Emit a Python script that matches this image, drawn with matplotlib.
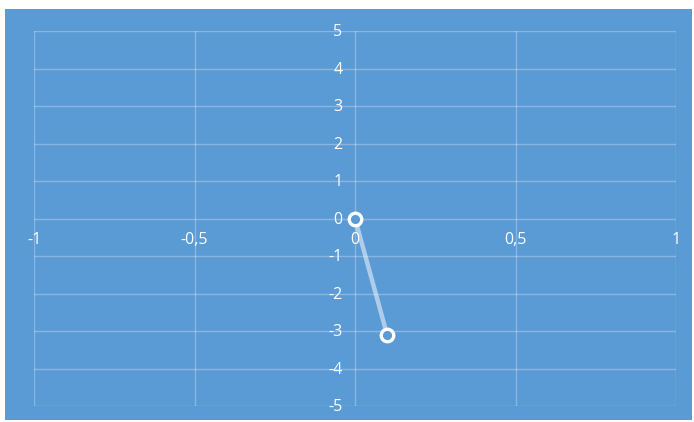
import matplotlib
matplotlib.use("Agg")
import matplotlib.pyplot as plt
from matplotlib.patches import Rectangle

# Series data
x_values = [0.0, 0.1]
y_values = [0.0, -3.1]

# Axis ticks and labels
x_ticks = [-1, -0.5, 0, 0.5, 1]
x_tick_labels = ["-1", "-0,5", "0", "0,5", "1"]
y_ticks = [-5, -4, -3, -2, -1, 0, 1, 2, 3, 4, 5]
y_tick_labels = [str(v) for v in y_ticks]

BG = "#5B9BD5"
GRID = (1, 1, 1, 0.28)

plt.rcParams["font.family"] = ["Open Sans", "DejaVu Sans"]

W, H = 694, 422
fig = plt.figure(figsize=(W / 100, H / 100), dpi=100)
fig.patch.set_facecolor("white")
fig.add_artist(Rectangle((5 / W, 2 / H), (692 - 5) / W, (420 - 9) / H,
                         transform=fig.transFigure, facecolor=BG,
                         edgecolor="none", zorder=0))

ax = fig.add_axes([34 / W, 1 - 406 / H, (676 - 34) / W, (406 - 31) / H])
ax.set_facecolor(BG)
ax.set_xlim(-1, 1)
ax.set_ylim(-5, 5)

# Gridlines
for xv in x_ticks:
    ax.axvline(xv, color=GRID, lw=1, zorder=1)
for yv in y_ticks:
    ax.axhline(yv, color=GRID, lw=1, zorder=1)

for s in ax.spines.values():
    s.set_visible(False)
ax.set_xticks([])
ax.set_yticks([])

# Tick labels placed along the central axes
for xv, lab in zip(x_ticks, x_tick_labels):
    ax.annotate(lab, (xv, 0), xytext=(0, -10), textcoords="offset points",
                ha="center", va="top", color="white", fontsize=11.5)
for yv, lab in zip(y_ticks, y_tick_labels):
    ax.annotate(lab, (0, yv), xytext=(-9, -1), textcoords="offset points",
                ha="right", va="center", color="white", fontsize=11.5)

# Line and markers
ax.plot(x_values, y_values, color=(1, 1, 1, 0.5), lw=3.2,
        solid_capstyle="round", zorder=3)
ax.plot(x_values, y_values, ls="none", marker="o", markersize=9,
        markerfacecolor=BG, markeredgecolor="white", markeredgewidth=2.4,
        zorder=4)

fig.savefig("out.png", dpi=100, facecolor=fig.get_facecolor())
